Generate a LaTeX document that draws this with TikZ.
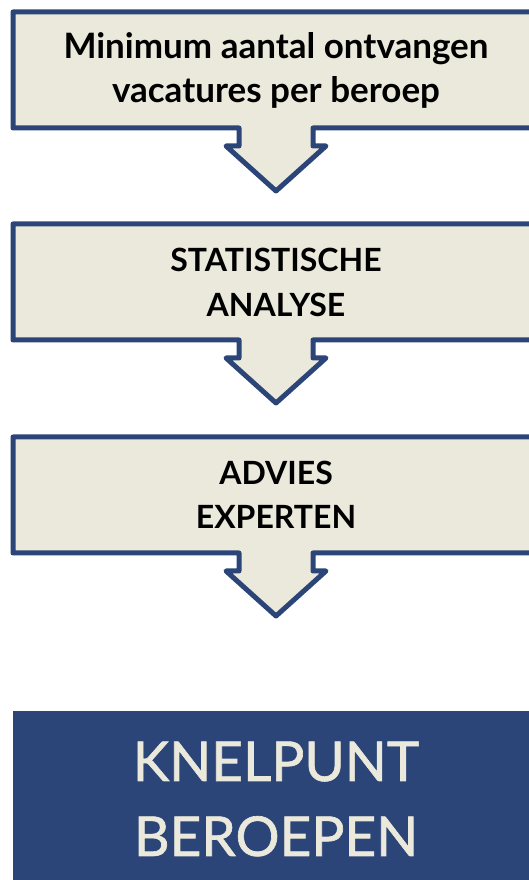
\documentclass[tikz,border=0pt]{standalone}
\usepackage{fontspec}
\setmainfont{Lato}
\newfontfamily\knelpuntfont[FakeBold=1.2]{Lato}
\usetikzlibrary{positioning,backgrounds}

\definecolor{kleurBlauw}{RGB}{43,69,120}
\definecolor{kleurCreme}{RGB}{235,233,219}

\tikzset{
  stapkader/.style={minimum width=526pt,minimum height=116pt,inner sep=0pt,
    outer sep=0pt,align=center,font=\bfseries\fontsize{35}{44}\selectfont},
  kaderlijn/.style={draw=kleurBlauw,fill=kleurCreme,line width=5pt,line join=round},
  eindkader/.style={fill=kleurBlauw,text=kleurCreme,minimum width=526pt,
    minimum height=176pt,inner sep=0pt,outer sep=0pt,align=center,
    font=\knelpuntfont\fontsize{55}{75}\selectfont},
}

\begin{document}
\begin{tikzpicture}[x=1pt,y=1pt]
 \useasboundingbox (0,0) rectangle (529,880);
 \node[stapkader] (minimum) at (276,810) {Minimum aantal ontvangen\\vacatures per beroep};
 \node[stapkader,below=96pt of minimum,font=\bfseries\fontsize{32}{45}\selectfont]
   (statistiek) {STATISTISCHE\\ANALYSE};
 \node[stapkader,below=97pt of statistiek,font=\bfseries\fontsize{32}{44}\selectfont]
   (advies) {ADVIES\\EXPERTEN};
 \node[eindkader,below=158pt of advies] (knelpunt) {KNELPUNT\\BEROEPEN};
 % kaders met pijl naar beneden
 \begin{scope}[on background layer]
  \foreach \n in {minimum,statistiek,advies}
   \draw[kaderlijn] (\n.north west) -- (\n.north east) -- (\n.south east)
     -- ([xshift=37]\n.south) -- ([xshift=37,yshift=-18]\n.south)
     -- ([xshift=50,yshift=-18]\n.south) -- ([yshift=-63]\n.south)
     -- ([xshift=-50,yshift=-18]\n.south) -- ([xshift=-37,yshift=-18]\n.south)
     -- ([xshift=-37]\n.south) -- (\n.south west) -- cycle;
 \end{scope}
\end{tikzpicture}
\end{document}
